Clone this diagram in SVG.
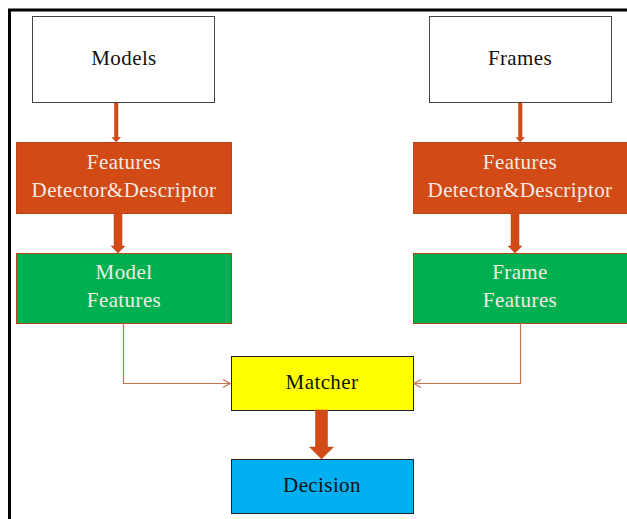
<svg xmlns="http://www.w3.org/2000/svg" width="627" height="519" viewBox="0 0 627 519">
  <style>
    .lbl { font-family: "Liberation Serif", "DejaVu Serif", serif; font-size: 21px; letter-spacing: 0.4px; text-anchor: middle; }
    .dark { fill: #111; }
    .light { fill: #f4ece6; }
    .box { stroke-width: 1; }
    .thin { fill: none; stroke: #c9714f; stroke-width: 1.2; }
    .thick { fill: #d24a16; stroke: #b84314; stroke-width: 0.5; }
  </style>
  <defs>
    <marker id="chev" markerWidth="10" markerHeight="10" refX="8" refY="5" orient="auto" markerUnits="userSpaceOnUse">
      <path d="M1,1 L8,5 L1,9" fill="none" stroke="#c9714f" stroke-width="1.2"/>
    </marker>
  </defs>
  <rect width="627" height="519" fill="#ffffff"/>
  <!-- outer frame -->
  <g id="frame" stroke="#000" stroke-width="3" fill="none">
    <line x1="8" y1="10" x2="627" y2="10"/>
    <line x1="9.5" y1="9" x2="9.5" y2="519"/>
  </g>

  <g id="models">
    <rect class="box" x="32.5" y="16.5" width="182" height="86" fill="#fff" stroke="#444"/>
    <text class="lbl dark" x="124" y="65">Models</text>
  </g>
  <g id="frames">
    <rect class="box" x="429.5" y="16.5" width="182" height="86" fill="#fff" stroke="#444"/>
    <text class="lbl dark" x="520" y="65">Frames</text>
  </g>
  <g id="detector-left">
    <rect class="box" x="16.5" y="142.5" width="215" height="71" fill="#d24a16" stroke="#b84314"/>
    <text class="lbl light" x="124" y="169">Features</text>
    <text class="lbl light" x="124" y="197">Detector&amp;Descriptor</text>
  </g>
  <g id="detector-right">
    <rect class="box" x="413.5" y="142.5" width="214" height="71" fill="#d24a16" stroke="#b84314"/>
    <text class="lbl light" x="520" y="169">Features</text>
    <text class="lbl light" x="520" y="197">Detector&amp;Descriptor</text>
  </g>
  <g id="model-features">
    <rect class="box" x="16.5" y="253.5" width="215" height="70" fill="#00b050" stroke="#b84314"/>
    <text class="lbl light" x="124" y="279">Model</text>
    <text class="lbl light" x="124" y="307">Features</text>
  </g>
  <g id="frame-features">
    <rect class="box" x="413.5" y="253.5" width="214" height="70" fill="#00b050" stroke="#b84314"/>
    <text class="lbl light" x="520" y="279">Frame</text>
    <text class="lbl light" x="520" y="307">Features</text>
  </g>
  <g id="matcher">
    <rect class="box" x="231.5" y="356.5" width="182" height="54" fill="#ffff00" stroke="#222"/>
    <text class="lbl dark" x="322" y="389">Matcher</text>
  </g>
  <g id="decision">
    <rect class="box" x="231.5" y="459.5" width="182" height="54" fill="#00b0f0" stroke="#222"/>
    <text class="lbl dark" x="322" y="492">Decision</text>
  </g>

  <g id="connectors">
    <!-- models -> detector -->
    <path class="thick" d="M114.5,103 H118 V137.5 H120.5 L116.2,142 L112,137.5 H114.5 Z"/>
    <path class="thick" d="M518.5,103 H522 V137.5 H524.5 L520.2,142 L516,137.5 H518.5 Z"/>
    <!-- detector -> features -->
    <path class="thick" d="M114,213 H122 V246 H125 L118,253 L111,246 H114 Z"/>
    <path class="thick" d="M511,213 H519 V246 H522 L515,253 L508,246 H511 Z"/>
    <!-- features -> matcher -->
    <path class="thin" d="M123.5,323 V383.5 H230" marker-end="url(#chev)"/>
    <path class="thin" d="M520.5,323 V383.5 H414" marker-end="url(#chev)"/>
    <!-- matcher -> decision -->
    <path class="thick" d="M315.5,410 H327.5 V447 H333.5 L321.5,459 L309.5,447 H315.5 Z"/>
  </g>
</svg>
